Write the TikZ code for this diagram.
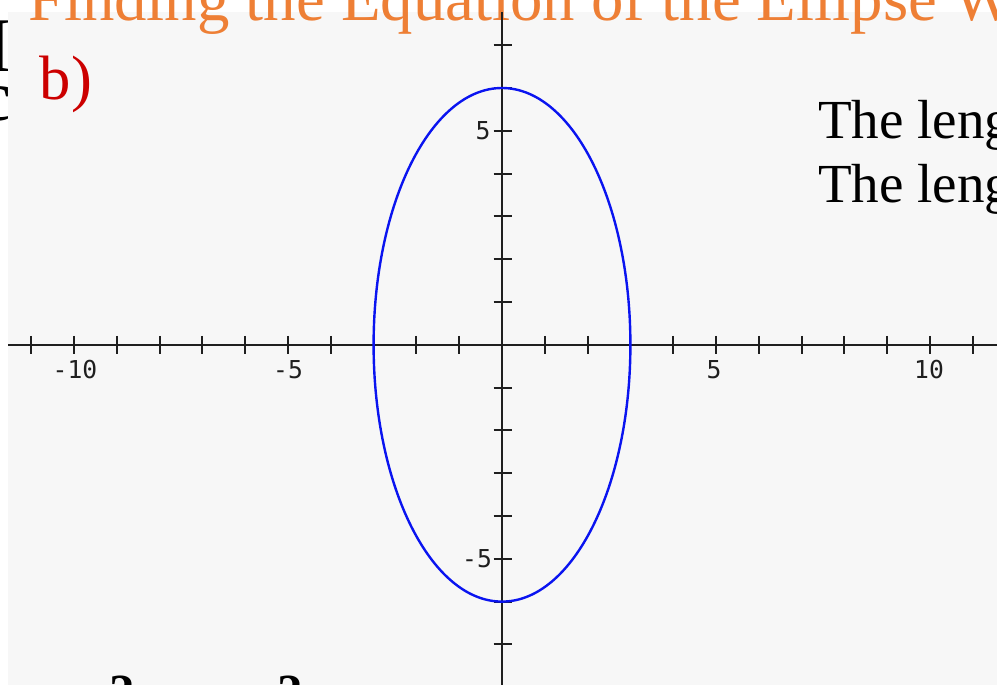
\documentclass[tikz,border=0pt]{standalone}
\usepackage{fontspec}
\setmainfont{Liberation Serif}
\newfontfamily\axisfont{DejaVu Sans Mono}
\definecolor{panelgray}{HTML}{F7F7F7}
\definecolor{titleorange}{HTML}{EE7F35}
\definecolor{labelred}{HTML}{CC0000}
\definecolor{curveblue}{HTML}{0A14F0}
\tikzset{
  txt/.style={inner sep=0pt, outer sep=0pt},
  axisline/.style={line width=1.7pt, black!88},
  tickline/.style={line width=1.5pt, black!88},
  ticklabel/.style={txt, font=\axisfont\fontsize{18.5}{18.5}\selectfont, black!88},
  curve/.style={line width=1.8pt, curveblue},
}
\begin{document}
\begin{tikzpicture}[x=0.75pt,y=-0.75pt]
\useasboundingbox (0,0) rectangle (997,685);
% text behind the panel, only its left edge shows
\node[txt, anchor=base east, text depth=0pt, font=\fontsize{58}{58}\selectfont] (leftI) at (12,72) {I};
\node[txt, anchor=base east, text height=20pt, font=\fontsize{54}{54}\selectfont] (leftc) at (11,121) {c};
% panel
\fill[panelgray] (8,12) rectangle (997,685);
% title
\node[txt, anchor=base west, text=titleorange, font=\fontsize{48.6}{50}\selectfont] (title) at (28,21) {Finding the Equation of the Ellipse W};
% label b)
\node[txt, anchor=base west, text=labelred, font=\fontsize{47}{48}\selectfont] (partb) at (40,100) {b)};
% right text
\node[txt, anchor=base west, font=\fontsize{41.3}{42}\selectfont] (line1) at (818,138) {The leng};
\node[txt, anchor=base west, font=\fontsize{41.3}{42}\selectfont] (line2) at (818,202) {The leng};
% bottom cut-off characters
\node[txt, anchor=base, font=\fontsize{38}{38}\selectfont\bfseries] (sq1) at (122,709) {2};
\node[txt, anchor=base, font=\fontsize{38}{38}\selectfont\bfseries] (sq2) at (290,709) {2};
% axes
\coordinate (xl) at (8,344.8);
\coordinate (xr) at (997,344.8);
\coordinate (yt) at (502,12);
\coordinate (yb) at (502,685);
\draw[axisline] (xl) -- (xr);
\draw[axisline] (yt) -- (yb);
\foreach \i in {-11,...,-1,1,2,...,11}
  \draw[tickline] ({502+42.8*\i},335.8) -- ++(0,18);
\foreach \j in {-7,...,-1,1,2,...,7}
  \draw[tickline] (493.5,{344.8-42.8*\j}) -- ++(18,0);
% tick labels
\node[ticklabel] (xm10) at (75,370) {-10};
\node[ticklabel] (xm5) at (288,370) {-5};
\node[ticklabel] (xp5) at (714,370) {5};
\node[ticklabel] (xp10) at (929,370) {10};
\node[ticklabel] (yp5) at (483,131) {5};
\node[ticklabel] (ym5) at (477,559) {-5};
% ellipse x^2/9 + y^2/36 = 1
\draw[curve] (502,344.8) ellipse [x radius=128.4, y radius=256.8];
\end{tikzpicture}
\end{document}
